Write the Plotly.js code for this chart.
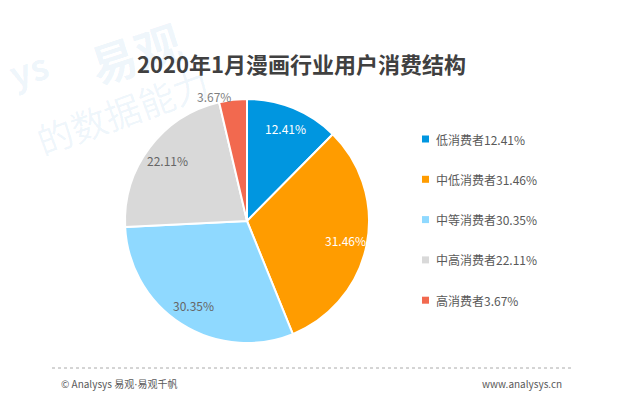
<!DOCTYPE html>
<html><head><meta charset="utf-8">
<script src="https://cdn.plot.ly/plotly-3.0.1.min.js"></script>
<style>html,body{margin:0;padding:0;background:#fff}#c{width:640px;height:394px}</style>
</head><body><div id="c"></div>
<script>
const categories = ['低消费者','中低消费者','中等消费者','中高消费者','高消费者'];
const values = [12.41, 31.46, 30.35, 22.11, 3.67];
const colors = ['#0096E0','#FF9C00','#8FD9FF','#D9D9D9','#F2694F'];
const labelColors = ['#FFFFFF','#FFFFFF','#666666','#666666','#7F7F7F'];
const labelPos = ['inside','inside','inside','inside','outside'];
const titleText = '2020年1月漫画行业用户消费结构';
const footerLeft = '© Analysys 易观<span style="font-family:DejaVu Sans">·</span>易观千帆';
const footerRight = 'www.analysys.cn';

const FONT = '"Noto Sans CJK SC", "Noto Sans", sans-serif';
const W = 640, H = 394;
const px = x => x / W, py = y => 1 - y / H;
// pie geometry (pixels)
const CX = 247, CY = 221, R = 122;

const trace = {
  type: 'pie',
  labels: categories,
  values: values,
  sort: false,
  direction: 'clockwise',
  rotation: 0,
  marker: {colors: colors, line: {color: '#FFFFFF', width: 2}},
  textinfo: 'none',
  hoverinfo: 'label+value',
  showlegend: false,
  domain: {x: [px(CX - R), px(CX + R)], y: [py(CY + R), py(CY - R)]}
};

const annotations = [];
const shapes = [];
// watermark
annotations.push({xref:'paper',yref:'paper',x:px(28),y:py(68),xanchor:'center',yanchor:'middle',
  text:'<b>ys</b>',showarrow:false,textangle:-18,
  font:{family:FONT,size:36,color:'rgba(0,120,200,0.07)'}});
annotations.push({xref:'paper',yref:'paper',x:px(135),y:py(52),xanchor:'center',yanchor:'middle',
  text:'<b>易观</b>',showarrow:false,textangle:-18,
  font:{family:FONT,size:46,color:'rgba(0,120,200,0.07)'}});
annotations.push({xref:'paper',yref:'paper',x:px(122),y:py(110),xanchor:'center',yanchor:'middle',
  text:'的数据能力',showarrow:false,textangle:-20,
  font:{family:FONT,size:36,color:'rgba(0,120,200,0.07)'}});
// title
annotations.push({xref:'paper',yref:'paper',x:px(301),y:py(63),xanchor:'center',yanchor:'middle',
  text:'<b>'+titleText+'</b>',showarrow:false,font:{family:FONT,size:22,color:'#404040'}});
// slice labels, placed from the data's cumulative angles
const total = values.reduce((a,b)=>a+b,0);
let cum = 0;
values.forEach((v,i)=>{
  const mid = (cum + v/2) / total * 2 * Math.PI;
  cum += v;
  const inside = labelPos[i] === 'inside';
  const f = inside ? 0.82 : 1.03;
  const x = CX + Math.sin(mid) * R * f;
  const y = CY - Math.cos(mid) * R * f;
  annotations.push({xref:'paper',yref:'paper',x:px(x),y:py(y),
    xanchor: inside ? 'center' : (Math.sin(mid) < 0 ? 'right' : 'left'),yanchor:'middle',
    text:v.toFixed(2)+'%',showarrow:false,font:{family:FONT,size:12,color:labelColors[i]}});
});
// legend
categories.forEach((c,i)=>{
  const y = 139 + i*40.3;
  shapes.push({type:'rect',xref:'paper',yref:'paper',x0:px(422),x1:px(429),y0:py(y+3.5),y1:py(y-3.5),
    fillcolor:colors[i],line:{width:0}});
  annotations.push({xref:'paper',yref:'paper',x:px(434),y:py(y),xanchor:'left',yanchor:'middle',
    text:c+values[i].toFixed(2)+'%',showarrow:false,font:{family:FONT,size:12,color:'#595959'}});
});
// footer
shapes.push({type:'line',xref:'paper',yref:'paper',x0:px(52),x1:px(574),y0:py(368),y1:py(368),
  line:{color:'#AAAAAA',width:1,dash:'dot'}});
annotations.push({xref:'paper',yref:'paper',x:px(59),y:py(383),xanchor:'left',yanchor:'middle',
  text:footerLeft,showarrow:false,font:{family:FONT,size:10,color:'#595959'}});
annotations.push({xref:'paper',yref:'paper',x:px(564),y:py(383),xanchor:'right',yanchor:'middle',
  text:footerRight,showarrow:false,font:{family:FONT,size:10,color:'#595959'}});

Plotly.newPlot('c',[trace],{
  width:W,height:H,margin:{l:0,r:0,t:0,b:0},
  paper_bgcolor:'#FFFFFF',plot_bgcolor:'#FFFFFF',
  showlegend:false,annotations:annotations,shapes:shapes
},{displayModeBar:false,staticPlot:true});
</script></body></html>
